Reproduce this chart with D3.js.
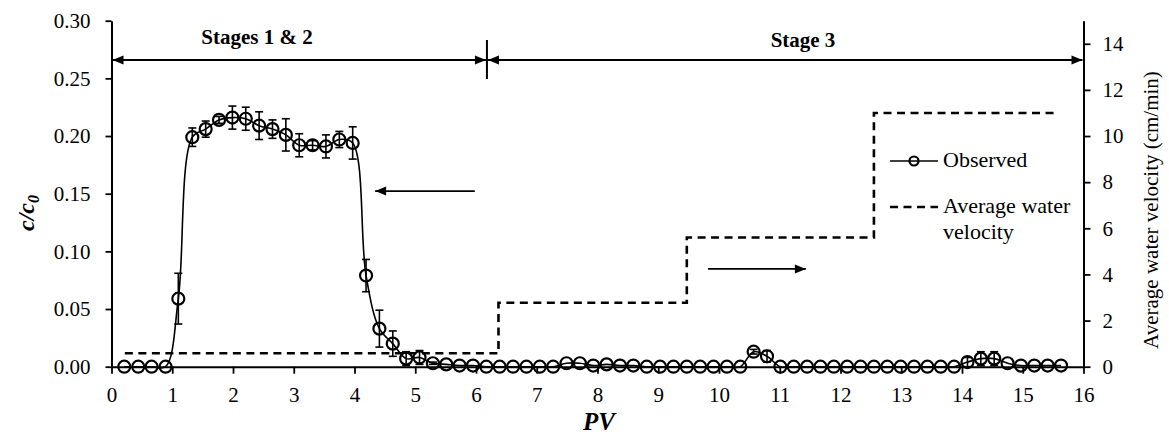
<!DOCTYPE html>
<html><head><meta charset="utf-8">
<script src="https://cdn.jsdelivr.net/npm/d3@7"></script>
<style>
body{margin:0;background:#fff}
svg text{font-family:"Liberation Serif","DejaVu Serif",serif !important;fill:#000}
</style>
</head><body>
<svg id="c" width="1169" height="435" font-family="Liberation Serif"></svg>
<script>
// ---- data ----
const pv = [0.21,0.44,0.66,0.89,1.10,1.33,1.55,1.77,1.99,2.21,2.43,2.65,2.87,3.09,3.31,3.53,3.75,3.97,4.19,4.41,4.63,4.85,5.07,5.29,5.51,5.73,5.95,6.17,6.39,6.61,6.83,7.05,7.27,7.49,7.71,7.93,8.15,8.37,8.59,8.81,9.03,9.25,9.47,9.69,9.91,10.13,10.35,10.57,10.79,11.01,11.23,11.45,11.67,11.89,12.11,12.33,12.55,12.77,12.99,13.21,13.43,13.65,13.87,14.09,14.31,14.53,14.75,14.97,15.19,15.41,15.63];
const cc = [0,0,0,0,0.059,0.199,0.206,0.214,0.216,0.215,0.209,0.206,0.201,0.192,0.192,0.191,0.197,0.194,0.079,0.033,0.020,0.007,0.008,0.003,0.002,0.001,0.001,0,0,0,0,0,0,0.003,0.003,0.001,0.002,0.001,0.001,0,0,0,0,0,0,0,0,0.013,0.009,0,0,0,0,0,0,0,0,0,0,0,0,0,0,0.004,0.007,0.007,0.003,0.001,0.001,0.001,0.001];
const ccErr = [0,0,0,0,0.022,0.008,0.007,0.003,0.010,0.010,0.012,0.008,0.014,0.010,0.004,0.010,0.007,0.014,0.014,0.016,0.011,0.006,0.006,0.001,0,0,0,0,0,0,0,0,0,0,0,0,0,0,0,0,0,0,0,0,0,0,0,0.002,0.005,0,0,0,0,0,0,0,0,0,0,0,0,0,0,0.004,0.006,0.006,0,0,0,0,0];
const velPV = [0.22,6.37,9.47,12.55,15.57];
const vel = [0.58,2.77,5.6,11.0,11.0];
const xTicks = [0,1,2,3,4,5,6,7,8,9,10,11,12,13,14,15,16];
const leftTicks = [0,0.05,0.10,0.15,0.20,0.25,0.30];
const rightTicks = [0,2,4,6,8,10,12,14];
const stageBoundary = 6.18;
const stageLabels = ["Stages 1 & 2","Stage 3"];
const legendLabels = ["Observed","Average water","velocity"];

// ---- layout ----
const FONT = '"Liberation Serif","DejaVu Serif",serif';
const L = 111.5, R = 1083.5, T = 20.7, B = 366.7;
const svg = d3.select("#c");
const x = d3.scaleLinear().domain([0,16]).range([L,R]);
const yL = d3.scaleLinear().domain([0,0.30]).range([B,T]);
const yR = d3.scaleLinear().domain([0,15]).range([B,T]);

function styleAxis(g, fs){
  g.attr("font-family",FONT).attr("font-size",fs);
  g.selectAll("path.domain").attr("stroke","#000").attr("stroke-width",2);
  g.selectAll(".tick line").attr("stroke","#000").attr("stroke-width",1.8);
  g.selectAll(".tick text").attr("font-size",fs).attr("fill","#000").attr("font-family",FONT);
}

// axes
const gx = svg.append("g").attr("transform",`translate(0,${B})`)
  .call(d3.axisBottom(x).tickValues(xTicks).tickFormat(d3.format("d")).tickSize(7).tickSizeOuter(0).tickPadding(13));
styleAxis(gx,21);
const gl = svg.append("g").attr("transform",`translate(${L},0)`)
  .call(d3.axisLeft(yL).tickValues(leftTicks).tickFormat(d3.format(".2f")).tickSize(6).tickSizeOuter(0).tickPadding(15));
styleAxis(gl,21);
const gr = svg.append("g").attr("transform",`translate(${R},0)`)
  .call(d3.axisRight(yR).tickValues(rightTicks).tickFormat(d3.format("d")).tickSize(7).tickSizeOuter(0).tickPadding(12));
styleAxis(gr,21);

// axis titles
const lt = svg.append("text").attr("transform","translate(34,213) rotate(-90)")
  .attr("text-anchor","middle").attr("font-size",24).attr("font-weight","bold").attr("font-style","italic");
lt.append("tspan").text("c/c");
lt.append("tspan").attr("font-size",16).attr("dy",5).text("0");
svg.append("text").attr("x",599).attr("y",430).attr("text-anchor","middle")
  .attr("font-size",25).attr("font-weight","bold").attr("font-style","italic").text("PV");
svg.append("text").attr("transform","translate(1158,210) rotate(-90)")
  .attr("text-anchor","middle").attr("font-size",21).text("Average water velocity (cm/min)");

// arrowhead helper
function head(xp, yp, dir){
  const len = 11, hw = 4.5;
  svg.append("path").attr("d",`M${xp},${yp}L${xp-dir*len},${yp-hw}L${xp-dir*len},${yp+hw}Z`).attr("fill","#000");
}
function hArrow(x1,x2,yp,left,right){
  svg.append("line").attr("x1",x1).attr("x2",x2).attr("y1",yp).attr("y2",yp).attr("stroke","#000").attr("stroke-width",1.8);
  if(left) head(x1,yp,-1);
  if(right) head(x2,yp,1);
}

// stage annotation
const ys = 60, xb = x(stageBoundary);
hArrow(L+1,xb-1,ys,true,true);
hArrow(xb+1,R-1,ys,true,true);
svg.append("line").attr("x1",xb).attr("x2",xb).attr("y1",40).attr("y2",79).attr("stroke","#000").attr("stroke-width",2);
svg.append("text").attr("x",257).attr("y",44).attr("text-anchor","middle").attr("font-size",21).attr("font-weight","bold").text(stageLabels[0]);
svg.append("text").attr("x",803).attr("y",47).attr("text-anchor","middle").attr("font-size",21).attr("font-weight","bold").text(stageLabels[1]);

// velocity step line
const velLine = d3.line().x((d,i)=>x(velPV[i])).y((d,i)=>yR(vel[i])).curve(d3.curveStepAfter);
svg.append("path").attr("d",velLine(vel)).attr("fill","none").attr("stroke","#000")
  .attr("stroke-width",2.6).attr("stroke-dasharray","8,5.5");

// observed line
const obsLine = d3.line().x((d,i)=>x(pv[i])).y((d,i)=>yL(cc[i])).curve(d3.curveCatmullRom.alpha(0.5));
svg.append("path").attr("d",obsLine(cc)).attr("fill","none").attr("stroke","#000").attr("stroke-width",1.6);

// error bars
const eb = svg.append("g").attr("stroke","#000").attr("stroke-width",1.6);
pv.forEach((p,i)=>{
  const e = ccErr[i]; if(!e) return;
  const xp = x(p), y1 = yL(cc[i]+e), y2 = yL(Math.max(0,cc[i]-e));
  eb.append("line").attr("x1",xp).attr("x2",xp).attr("y1",y1).attr("y2",y2);
  eb.append("line").attr("x1",xp-4).attr("x2",xp+4).attr("y1",y1).attr("y2",y1);
  eb.append("line").attr("x1",xp-4).attr("x2",xp+4).attr("y1",y2).attr("y2",y2);
});

// markers
svg.append("g").selectAll("circle").data(cc).join("circle")
  .attr("cx",(d,i)=>x(pv[i])).attr("cy",d=>yL(d)).attr("r",6)
  .attr("fill","none").attr("stroke","#000").attr("stroke-width",2.2);

// direction arrows
hArrow(x(4.34),x(5.98),yL(0.1523),true,false);
hArrow(x(9.82),x(11.43),yR(4.24),false,true);

// legend
svg.append("line").attr("x1",890).attr("x2",938).attr("y1",161).attr("y2",161).attr("stroke","#000").attr("stroke-width",1.6);
svg.append("circle").attr("cx",914).attr("cy",161).attr("r",4.5).attr("fill","none").attr("stroke","#000").attr("stroke-width",2.2);
svg.append("text").attr("x",943).attr("y",167).attr("font-size",22).text(legendLabels[0]);
svg.append("line").attr("x1",890).attr("x2",938).attr("y1",207).attr("y2",207).attr("stroke","#000")
  .attr("stroke-width",2.6).attr("stroke-dasharray","8,5.5");
svg.append("text").attr("x",943).attr("y",213).attr("font-size",22).text(legendLabels[1]);
svg.append("text").attr("x",943).attr("y",239).attr("font-size",22).text(legendLabels[2]);
</script>
</body></html>
